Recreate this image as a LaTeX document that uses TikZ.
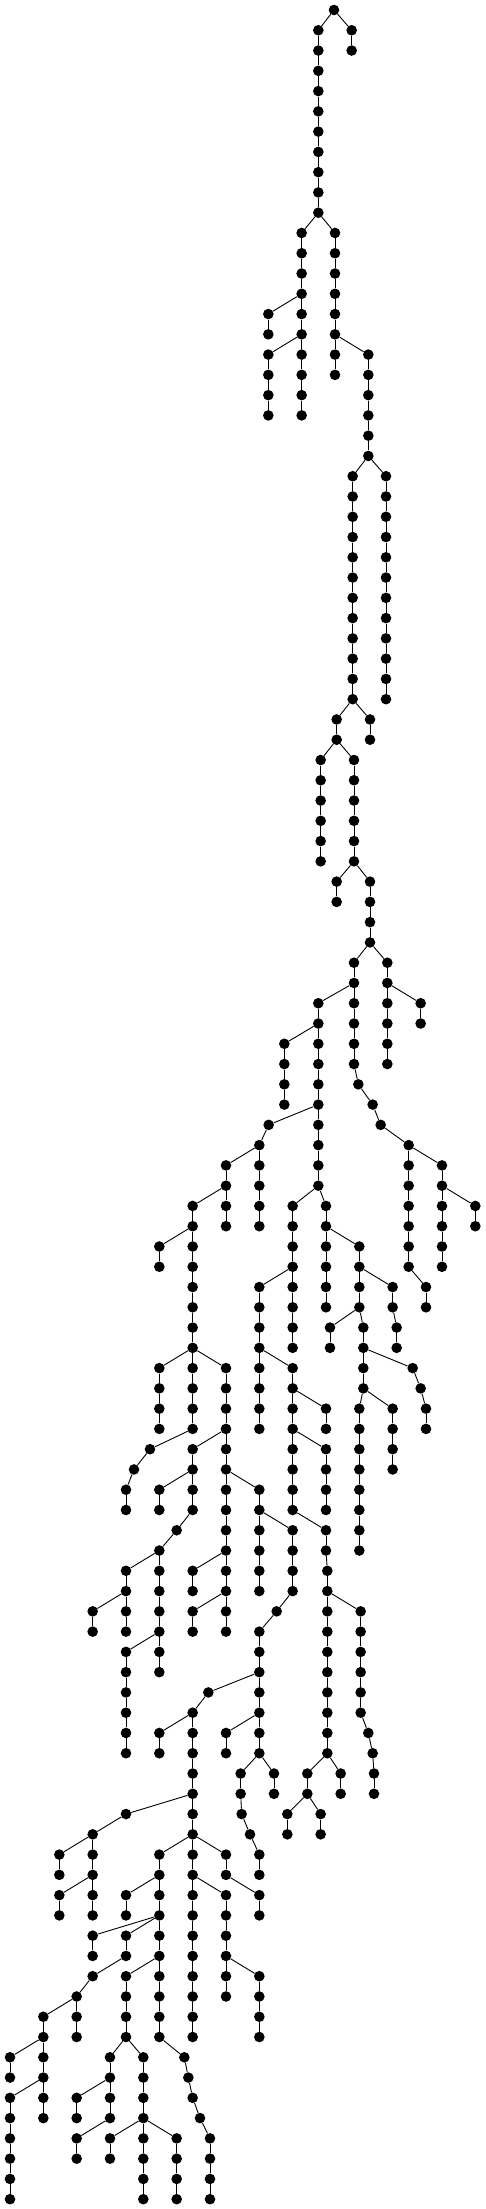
\documentclass[tikz,border=0pt]{standalone}
\tikzset{dot/.style={circle,fill=black,draw=none,inner sep=0pt,minimum size=10.6pt},
  edge/.style={line width=0.9pt,black}}
\newcommand\C[4]{\node[dot] (n#1x#2) at (#2,#1) {}; \draw[edge] (n#3x#4) -- (n#1x#2);}
\begin{document}
\begin{tikzpicture}[x=0.333333pt,y=-20.27pt]
\useasboundingbox (0,-0.4933) rectangle (1458,108.485);
\node[dot] (n0x1002) at (1002,0) {};
\C{1}{955}{0}{1002} \C{1}{1055}{0}{1002}
\C{2}{955}{1}{955} \C{2}{1055}{1}{1055}
\C{3}{955}{2}{955}
\C{4}{955}{3}{955}
\C{5}{955}{4}{955}
\C{6}{955}{5}{955}
\C{7}{955}{6}{955}
\C{8}{955}{7}{955}
\C{9}{955}{8}{955}
\C{10}{955}{9}{955}
\C{11}{905}{10}{955} \C{11}{1005}{10}{955}
\C{12}{905}{11}{905} \C{12}{1005}{11}{1005}
\C{13}{905}{12}{905} \C{13}{1005}{12}{1005}
\C{14}{905}{13}{905} \C{14}{1005}{13}{1005}
\C{15}{805}{14}{905} \C{15}{905}{14}{905} \C{15}{1005}{14}{1005}
\C{16}{805}{15}{805} \C{16}{905}{15}{905} \C{16}{1005}{15}{1005}
\C{17}{805}{16}{905} \C{17}{905}{16}{905} \C{17}{1005}{16}{1005} \C{17}{1105}{16}{1005}
\C{18}{805}{17}{805} \C{18}{905}{17}{905} \C{18}{1005}{17}{1005} \C{18}{1105}{17}{1105}
\C{19}{805}{18}{805} \C{19}{905}{18}{905} \C{19}{1105}{18}{1105}
\C{20}{805}{19}{805} \C{20}{905}{19}{905} \C{20}{1105}{19}{1105}
\C{21}{1105}{20}{1105}
\C{22}{1105}{21}{1105}
\C{23}{1058}{22}{1105} \C{23}{1158}{22}{1105}
\C{24}{1058}{23}{1058} \C{24}{1158}{23}{1158}
\C{25}{1058}{24}{1058} \C{25}{1158}{24}{1158}
\C{26}{1058}{25}{1058} \C{26}{1158}{25}{1158}
\C{27}{1058}{26}{1058} \C{27}{1158}{26}{1158}
\C{28}{1058}{27}{1058} \C{28}{1158}{27}{1158}
\C{29}{1058}{28}{1058} \C{29}{1158}{28}{1158}
\C{30}{1058}{29}{1058} \C{30}{1158}{29}{1158}
\C{31}{1058}{30}{1058} \C{31}{1158}{30}{1158}
\C{32}{1058}{31}{1058} \C{32}{1158}{31}{1158}
\C{33}{1058}{32}{1058} \C{33}{1158}{32}{1158}
\C{34}{1058}{33}{1058} \C{34}{1158}{33}{1158}
\C{35}{1010}{34}{1058} \C{35}{1110}{34}{1058}
\C{36}{1010}{35}{1010} \C{36}{1110}{35}{1110}
\C{37}{962}{36}{1010} \C{37}{1062}{36}{1010}
\C{38}{962}{37}{962} \C{38}{1062}{37}{1062}
\C{39}{962}{38}{962} \C{39}{1062}{38}{1062}
\C{40}{962}{39}{962} \C{40}{1062}{39}{1062}
\C{41}{962}{40}{962} \C{41}{1062}{40}{1062}
\C{42}{962}{41}{962} \C{42}{1062}{41}{1062}
\C{43}{1010}{42}{1062} \C{43}{1110}{42}{1062}
\C{44}{1010}{43}{1010} \C{44}{1110}{43}{1110}
\C{45}{1110}{44}{1110}
\C{46}{1110}{45}{1110}
\C{47}{1062}{46}{1110} \C{47}{1162}{46}{1110}
\C{48}{1062}{47}{1062} \C{48}{1162}{47}{1162}
\C{49}{955}{48}{1062} \C{49}{1062}{48}{1062} \C{49}{1162}{48}{1162} \C{49}{1262}{48}{1162}
\C{50}{955}{49}{955} \C{50}{1062}{49}{1062} \C{50}{1162}{49}{1162} \C{50}{1262}{49}{1262}
\C{51}{853}{50}{955} \C{51}{955}{50}{955} \C{51}{1062}{50}{1062} \C{51}{1162}{50}{1162}
\C{52}{853}{51}{853} \C{52}{955}{51}{955} \C{52}{1062}{51}{1062} \C{52}{1162}{51}{1162}
\C{53}{853}{52}{853} \C{53}{955}{52}{955} \C{53}{1075}{52}{1062}
\C{54}{853}{53}{853} \C{54}{955}{53}{955} \C{54}{1118}{53}{1075}
\C{55}{806}{54}{955} \C{55}{955}{54}{955} \C{55}{1142}{54}{1118}
\C{56}{778}{55}{806} \C{56}{955}{55}{955} \C{56}{1226}{55}{1142}
\C{57}{678}{56}{778} \C{57}{778}{56}{778} \C{57}{955}{56}{955} \C{57}{1226}{56}{1226} \C{57}{1326}{56}{1226}
\C{58}{678}{57}{678} \C{58}{778}{57}{778} \C{58}{955}{57}{955} \C{58}{1226}{57}{1226} \C{58}{1326}{57}{1326}
\C{59}{578}{58}{678} \C{59}{678}{58}{678} \C{59}{778}{58}{778} \C{59}{878}{58}{955} \C{59}{978}{58}{955} \C{59}{1226}{58}{1226} \C{59}{1326}{58}{1326} \C{59}{1426}{58}{1326}
\C{60}{578}{59}{578} \C{60}{678}{59}{678} \C{60}{778}{59}{778} \C{60}{878}{59}{878} \C{60}{978}{59}{978} \C{60}{1226}{59}{1226} \C{60}{1326}{59}{1326} \C{60}{1426}{59}{1426}
\C{61}{478}{60}{578} \C{61}{578}{60}{578} \C{61}{878}{60}{878} \C{61}{978}{60}{978} \C{61}{1078}{60}{978} \C{61}{1226}{60}{1226} \C{61}{1326}{60}{1326}
\C{62}{478}{61}{478} \C{62}{578}{61}{578} \C{62}{878}{61}{878} \C{62}{978}{61}{978} \C{62}{1078}{61}{1078} \C{62}{1226}{61}{1226} \C{62}{1326}{61}{1326}
\C{63}{578}{62}{578} \C{63}{778}{62}{878} \C{63}{878}{62}{878} \C{63}{978}{62}{978} \C{63}{1078}{62}{1078} \C{63}{1178}{62}{1078} \C{63}{1278}{62}{1226}
\C{64}{578}{63}{578} \C{64}{778}{63}{778} \C{64}{878}{63}{878} \C{64}{978}{63}{978} \C{64}{1078}{63}{1078} \C{64}{1178}{63}{1178} \C{64}{1278}{63}{1278}
\C{65}{578}{64}{578} \C{65}{778}{64}{778} \C{65}{878}{64}{878} \C{65}{990}{64}{1078} \C{65}{1090}{64}{1078} \C{65}{1190}{64}{1178}
\C{66}{578}{65}{578} \C{66}{778}{65}{778} \C{66}{878}{65}{878} \C{66}{990}{65}{990} \C{66}{1090}{65}{1090} \C{66}{1190}{65}{1190}
\C{67}{478}{66}{578} \C{67}{578}{66}{578} \C{67}{678}{66}{578} \C{67}{778}{66}{778} \C{67}{878}{66}{778} \C{67}{1090}{66}{1090} \C{67}{1238}{66}{1090}
\C{68}{478}{67}{478} \C{68}{578}{67}{578} \C{68}{678}{67}{678} \C{68}{778}{67}{778} \C{68}{878}{67}{878} \C{68}{1090}{67}{1090} \C{68}{1262}{67}{1238}
\C{69}{478}{68}{478} \C{69}{578}{68}{578} \C{69}{678}{68}{678} \C{69}{778}{68}{778} \C{69}{878}{68}{878} \C{69}{978}{68}{878} \C{69}{1078}{68}{1090} \C{69}{1178}{68}{1090} \C{69}{1278}{68}{1262}
\C{70}{478}{69}{478} \C{70}{578}{69}{578} \C{70}{678}{69}{678} \C{70}{778}{69}{778} \C{70}{878}{69}{878} \C{70}{978}{69}{978} \C{70}{1078}{69}{1078} \C{70}{1178}{69}{1178} \C{70}{1278}{69}{1278}
\C{71}{450}{70}{578} \C{71}{578}{70}{678} \C{71}{678}{70}{678} \C{71}{878}{70}{878} \C{71}{978}{70}{878} \C{71}{1078}{70}{1078} \C{71}{1178}{70}{1178}
\C{72}{402}{71}{450} \C{72}{578}{71}{578} \C{72}{678}{71}{678} \C{72}{878}{71}{878} \C{72}{978}{71}{978} \C{72}{1078}{71}{1078} \C{72}{1178}{71}{1178}
\C{73}{378}{72}{402} \C{73}{478}{72}{578} \C{73}{578}{72}{578} \C{73}{678}{72}{678} \C{73}{778}{72}{678} \C{73}{878}{72}{878} \C{73}{978}{72}{978} \C{73}{1078}{72}{1078}
\C{74}{378}{73}{378} \C{74}{478}{73}{478} \C{74}{578}{73}{578} \C{74}{678}{73}{678} \C{74}{778}{73}{778} \C{74}{878}{73}{878} \C{74}{978}{73}{978} \C{74}{1078}{73}{1078}
\C{75}{530}{74}{578} \C{75}{678}{74}{678} \C{75}{778}{74}{778} \C{75}{878}{74}{778} \C{75}{978}{74}{878} \C{75}{1078}{74}{1078}
\C{76}{478}{75}{530} \C{76}{678}{75}{678} \C{76}{778}{75}{778} \C{76}{878}{75}{878} \C{76}{978}{75}{978} \C{76}{1078}{75}{1078}
\C{77}{378}{76}{478} \C{77}{478}{76}{478} \C{77}{578}{76}{678} \C{77}{678}{76}{678} \C{77}{778}{76}{778} \C{77}{878}{76}{878} \C{77}{982}{76}{978}
\C{78}{378}{77}{378} \C{78}{478}{77}{478} \C{78}{578}{77}{578} \C{78}{678}{77}{678} \C{78}{778}{77}{778} \C{78}{878}{77}{878} \C{78}{982}{77}{982}
\C{79}{278}{78}{378} \C{79}{378}{78}{378} \C{79}{478}{78}{478} \C{79}{578}{78}{678} \C{79}{678}{78}{678} \C{79}{830}{78}{878} \C{79}{982}{78}{982} \C{79}{1082}{78}{982}
\C{80}{278}{79}{278} \C{80}{378}{79}{378} \C{80}{478}{79}{478} \C{80}{578}{79}{578} \C{80}{678}{79}{678} \C{80}{778}{79}{830} \C{80}{982}{79}{982} \C{80}{1082}{79}{1082}
\C{81}{378}{80}{478} \C{81}{478}{80}{478} \C{81}{778}{80}{778} \C{81}{982}{80}{982} \C{81}{1082}{80}{1082}
\C{82}{378}{81}{378} \C{82}{478}{81}{478} \C{82}{778}{81}{778} \C{82}{982}{81}{982} \C{82}{1082}{81}{1082}
\C{83}{378}{82}{378} \C{83}{625}{82}{778} \C{83}{778}{82}{778} \C{83}{982}{82}{982} \C{83}{1082}{82}{1082}
\C{84}{378}{83}{378} \C{84}{578}{83}{625} \C{84}{778}{83}{778} \C{84}{982}{83}{982} \C{84}{1082}{83}{1082}
\C{85}{378}{84}{378} \C{85}{478}{84}{578} \C{85}{578}{84}{578} \C{85}{678}{84}{778} \C{85}{778}{84}{778} \C{85}{982}{84}{982} \C{85}{1105}{84}{1082}
\C{86}{378}{85}{378} \C{86}{478}{85}{478} \C{86}{578}{85}{578} \C{86}{678}{85}{678} \C{86}{778}{85}{778} \C{86}{982}{85}{982} \C{86}{1118}{85}{1105}
\C{87}{578}{86}{578} \C{87}{722}{86}{778} \C{87}{822}{86}{778} \C{87}{922}{86}{982} \C{87}{1022}{86}{982} \C{87}{1122}{86}{1118}
\C{88}{578}{87}{578} \C{88}{722}{87}{722} \C{88}{822}{87}{822} \C{88}{922}{87}{922} \C{88}{1022}{87}{1022} \C{88}{1122}{87}{1122}
\C{89}{378}{88}{578} \C{89}{578}{88}{578} \C{89}{725}{88}{722} \C{89}{862}{88}{922} \C{89}{962}{88}{922}
\C{90}{278}{89}{378} \C{90}{578}{89}{578} \C{90}{750}{89}{725} \C{90}{862}{89}{862} \C{90}{962}{89}{962}
\C{91}{178}{90}{278} \C{91}{278}{90}{278} \C{91}{478}{90}{578} \C{91}{578}{90}{578} \C{91}{678}{90}{578} \C{91}{778}{90}{750}
\C{92}{178}{91}{178} \C{92}{278}{91}{278} \C{92}{478}{91}{478} \C{92}{578}{91}{578} \C{92}{678}{91}{678} \C{92}{778}{91}{778}
\C{93}{178}{92}{278} \C{93}{278}{92}{278} \C{93}{378}{92}{478} \C{93}{478}{92}{478} \C{93}{578}{92}{578} \C{93}{678}{92}{578} \C{93}{778}{92}{678}
\C{94}{178}{93}{178} \C{94}{278}{93}{278} \C{94}{378}{93}{378} \C{94}{478}{93}{478} \C{94}{578}{93}{578} \C{94}{678}{93}{678} \C{94}{778}{93}{778}
\C{95}{278}{94}{478} \C{95}{378}{94}{478} \C{95}{478}{94}{478} \C{95}{578}{94}{578} \C{95}{678}{94}{678}
\C{96}{278}{95}{278} \C{96}{378}{95}{378} \C{96}{478}{95}{478} \C{96}{578}{95}{578} \C{96}{678}{95}{678}
\C{97}{278}{96}{378} \C{97}{378}{96}{478} \C{97}{478}{96}{478} \C{97}{578}{96}{578} \C{97}{678}{96}{678} \C{97}{778}{96}{678}
\C{98}{230}{97}{278} \C{98}{378}{97}{378} \C{98}{478}{97}{478} \C{98}{578}{97}{578} \C{98}{678}{97}{678} \C{98}{778}{97}{778}
\C{99}{130}{98}{230} \C{99}{230}{98}{230} \C{99}{378}{98}{378} \C{99}{478}{98}{478} \C{99}{578}{98}{578} \C{99}{778}{98}{778}
\C{100}{130}{99}{130} \C{100}{230}{99}{230} \C{100}{378}{99}{378} \C{100}{478}{99}{478} \C{100}{578}{99}{578} \C{100}{778}{99}{778}
\C{101}{30}{100}{130} \C{101}{130}{100}{130} \C{101}{330}{100}{378} \C{101}{430}{100}{378} \C{101}{553}{100}{478}
\C{102}{30}{101}{30} \C{102}{130}{101}{130} \C{102}{330}{101}{330} \C{102}{430}{101}{430} \C{102}{565}{101}{553}
\C{103}{30}{102}{130} \C{103}{130}{102}{130} \C{103}{230}{102}{330} \C{103}{330}{102}{330} \C{103}{430}{102}{430} \C{103}{578}{102}{565}
\C{104}{30}{103}{30} \C{104}{130}{103}{130} \C{104}{230}{103}{230} \C{104}{330}{103}{330} \C{104}{430}{103}{430} \C{104}{600}{103}{578}
\C{105}{30}{104}{30} \C{105}{230}{104}{330} \C{105}{330}{104}{430} \C{105}{430}{104}{430} \C{105}{530}{104}{430} \C{105}{630}{104}{600}
\C{106}{30}{105}{30} \C{106}{230}{105}{230} \C{106}{330}{105}{330} \C{106}{430}{105}{430} \C{106}{530}{105}{530} \C{106}{630}{105}{630}
\C{107}{30}{106}{30} \C{107}{430}{106}{430} \C{107}{530}{106}{530} \C{107}{630}{106}{630}
\C{108}{30}{107}{30} \C{108}{430}{107}{430} \C{108}{530}{107}{530} \C{108}{630}{107}{630}
\end{tikzpicture}
\end{document}
